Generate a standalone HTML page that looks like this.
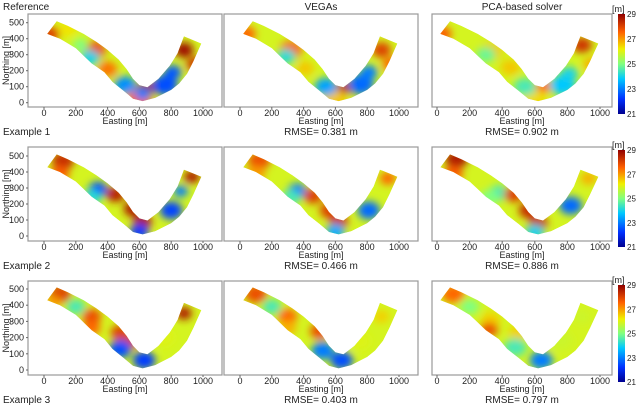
<!DOCTYPE html>
<html><head><meta charset="utf-8"><style>
body{margin:0;background:#fff;width:640px;height:409px;overflow:hidden}
svg text{font-family:"Liberation Sans",sans-serif;fill:#222}
</style></head><body>
<svg id="fig" width="640" height="409" viewBox="0 0 640 409" xmlns="http://www.w3.org/2000/svg">
<defs>
<filter id="blur" x="-50%" y="-50%" width="200%" height="200%"><feGaussianBlur stdDeviation="4"/></filter>
<linearGradient id="cbar" x1="0" y1="1" x2="0" y2="0">
<stop offset="0" stop-color="#00008f"/><stop offset="0.15" stop-color="#0030ff"/><stop offset="0.35" stop-color="#00c8ff"/>
<stop offset="0.5" stop-color="#80ff80"/><stop offset="0.65" stop-color="#f0f000"/><stop offset="0.82" stop-color="#ff6000"/><stop offset="1" stop-color="#900000"/>
</linearGradient>
</defs>
</svg>
<script>
const NS='http://www.w3.org/2000/svg';
const svg=document.getElementById('fig');
// channel outline (easting, northing)
const upperEdge=[[80,510],[150,480],[250,430],[330,380],[400,330],[470,270],[520,210],[560,150],[600,110],[650,97],[720,150],[790,230],[840,310],[880,415]];
const lowerEdge=[[990,370],[940,260],[900,180],[850,120],[800,80],[700,30],[620,10],[560,25],[500,75],[430,130],[380,190],[300,245],[200,340],[100,400],[20,430]];
const titles=['Reference','VEGAs','PCA-based solver'];
const rowLabels=['Example 1','Example 2','Example 3'];
const rmse=[['0.381','0.902'],['0.466','0.886'],['0.403','0.797']];
const xTicks=[0,200,400,600,800,1000];
const yTicks=[0,100,200,300,400,500];
const cbTicks=[21,23,25,27,29];
// blobs per panel: [easting, northing, radius(m), value]
const blobs=[
 [[[40,430,60,28],[150,460,60,26.3],[320,330,70,27.8],[400,210,60,27.4],[640,90,55,28.8],[600,25,80,27.5],[510,110,70,23.2],[620,55,50,23],[760,110,80,22.5],[810,190,55,22.6],[880,330,60,28.8],[950,240,55,28.2],[290,280,60,24],[230,360,50,25]],
  [[40,430,60,27.5],[320,330,70,27.6],[410,215,55,26.6],[650,90,50,28.5],[600,25,70,26.6],[540,100,70,23.4],[760,115,80,22.8],[810,190,55,23],[890,330,60,28],[950,240,55,27.5],[290,290,60,24.2]],
  [[30,430,60,27.6],[330,320,70,26.6],[450,220,60,26.6],[650,100,50,27.5],[600,25,70,26.4],[540,100,70,24.5],[770,110,80,23.8],[810,180,55,24],[890,360,60,28.2],[950,240,55,26.8],[300,300,60,24.8]]],
 [[[120,470,70,28.3],[100,390,60,27.6],[340,290,60,22.5],[450,260,60,28.5],[560,170,60,28.6],[620,90,60,28.6],[600,30,60,22.3],[800,160,70,22.4],[860,280,45,23],[930,370,50,28.6],[300,240,60,24.2]],
  [[120,470,70,27.8],[100,390,60,27],[360,280,60,23],[460,250,60,28],[560,160,60,28],[620,90,60,28.2],[600,30,60,23.5],[810,160,70,22.8],[930,360,50,27.5],[320,240,60,24.5]],
  [[120,480,70,28.6],[100,390,60,27.6],[380,270,60,24.5],[470,260,60,28],[560,160,60,28.3],[620,80,60,28.3],[600,25,60,24],[820,190,70,22.8],[930,360,50,26.8],[320,240,60,25]]],
 [[[100,470,70,28],[60,420,50,27],[300,330,60,27.8],[300,260,55,27.5],[480,230,60,28],[560,180,50,28],[480,130,70,22.5],[630,60,70,22.3],[880,350,50,28.6],[750,200,70,26],[200,390,60,24.5]],
  [[100,470,70,27.8],[300,330,60,27.5],[300,260,55,26.8],[500,240,60,27.8],[520,120,70,23],[640,60,70,22.5],[890,330,50,26.5],[750,180,70,26],[200,390,60,24.5]],
  [[100,470,70,27.5],[330,310,60,26.5],[320,250,55,27.8],[500,230,60,26.5],[480,140,70,24.5],[640,60,70,23],[890,330,50,25.8],[760,180,70,25.8],[200,390,60,25]]]];
const colX0=[44,240,437], colX1=[203,399,600];
const boxL=[28,224,432], boxR=[222,418,612];
const rowY0=[102.7,236,370], rowY500=[22.7,156,289];
const boxT=[14,147,281], boxB=[107,241,375];
const cbTop=[14,150,285], cbBot=[114,247,382];
function jet(v){const t=Math.max(0,Math.min(1,(v-21)/8));
 const st=[[0,[0,0,143]],[0.15,[0,48,255]],[0.35,[0,200,255]],[0.5,[128,255,128]],[0.65,[240,240,0]],[0.82,[255,96,0]],[1,[144,0,0]]];
 for(let i=1;i<st.length;i++){if(t<=st[i][0]){const a=st[i-1],b=st[i],f=(t-a[0])/(b[0]-a[0]);
  return 'rgb('+a[1].map((c,k)=>Math.round(c+(b[1][k]-c)*f)).join(',')+')';}}return 'rgb(144,0,0)';}
function el(tag,attrs,parent){const e=document.createElementNS(NS,tag);for(const k in attrs)e.setAttribute(k,attrs[k]);(parent||svg).appendChild(e);return e;}
function txt(x,y,s,size,anchor,parent){const t=el('text',{x:x,y:y,'font-size':size,'text-anchor':anchor||'start'},parent);t.textContent=s;return t;}
for(let r=0;r<3;r++){for(let c=0;c<3;c++){
 const sx=(colX1[c]-colX0[c])/1000, sy=(rowY0[r]-rowY500[r])/500;
 const X=e=>colX0[c]+e*sx, Y=n=>rowY0[r]-n*sy;
 const g=el('g',{});
 
 
 const box=el('rect',{x:boxL[c],y:boxT[r],width:boxR[c]-boxL[c],height:boxB[r]-boxT[r],fill:'#fff',stroke:'#999','stroke-width':1.2},g);
 
 
 const pts=upperEdge.concat(lowerEdge).map(p=>X(p[0]).toFixed(1)+','+Y(p[1]).toFixed(1)).join(' ');
 const cid='clip'+r+c;
 const cp=el('clipPath',{id:cid},g);el('polygon',{points:pts},cp);
 const field=el('g',{'clip-path':'url(#'+cid+')'},g);
 
 
 el('polygon',{points:pts,fill:jet(25.9)},field);
 const bg=el('g',{filter:'url(#blur)'},field);
 blobs[r][c].forEach(b=>{const e=el('ellipse',{cx:X(b[0]),cy:Y(b[1]),rx:b[2]*sx,ry:b[2]*sy*0.8,fill:jet(b[3])},bg);
  
  });
 xTicks.forEach(v=>{el('line',{x1:X(v),x2:X(v),y1:boxB[r],y2:boxB[r]+2,stroke:'#666'},g);txt(X(v),boxB[r]+9,String(v),9,'middle',g);});
 const xl=txt((boxL[c]+boxR[c])/2,boxB[r]+17,'Easting [m]',9,'middle',g);
 
 
 if(c===0){yTicks.forEach(v=>{el('line',{x1:boxL[c]-2,x2:boxL[c],y1:Y(v),y2:Y(v),stroke:'#666'},g);txt(boxL[c]-4,Y(v)+3,String(v),9,'end',g);});
  const yl=txt(0,0,'Northing [m]',9,'middle',g);yl.setAttribute('transform','translate(9,'+((boxT[r]+boxB[r])/2)+') rotate(-90)');
  
  }
}
 const lab=txt(3,boxB[r]+28,rowLabels[r],10,'start');
 
 
 for(let c=1;c<3;c++){const t=txt((boxL[c]+boxR[c])/2,boxB[r]+28,'RMSE= '+rmse[r][c-1]+' m',10,'middle');
  
  }
 const cb=el('rect',{x:618,y:cbTop[r],width:7,height:cbBot[r]-cbTop[r],fill:'url(#cbar)'});
 
 
 cbTicks.forEach(v=>{const y=cbBot[r]-(v-21)/8*(cbBot[r]-cbTop[r]);txt(627,y+3,String(v),8,'start');});
 txt(612,cbTop[r]-2,'[m]',9,'start');
}
titles.forEach((t,c)=>{const e=txt(c===0?3:(boxL[c]+boxR[c])/2,10,t,10,c===0?'start':'middle');
 
 });
</script>
</body></html>
